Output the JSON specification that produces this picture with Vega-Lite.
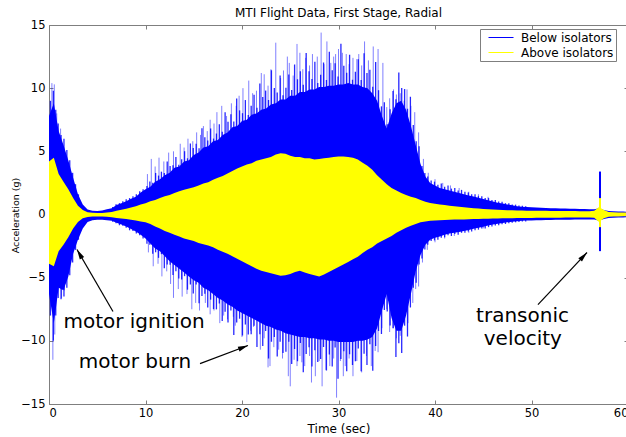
{
  "$schema": "https://vega.github.io/schema/vega-lite/v6.json",
  "width": 579,
  "height": 379,
  "autosize": {"type": "none"},
  "padding": {"left": 49, "top": 25, "right": 0, "bottom": 33},
  "background": "white",
  "title": {"text": "MTI Flight Data, First Stage, Radial", "font": "DejaVu Sans", "fontSize": 12, "fontWeight": "normal", "color": "#000", "offset": -1, "anchor": "middle"},
  "config": {
    "view": {"stroke": "#7f7f7f", "strokeWidth": 1},
    "axis": {"domain": false, "grid": false, "tickColor": "#7f7f7f", "tickSize": -4, "labelFont": "DejaVu Sans", "labelFontSize": 11.5, "labelColor": "#000", "titleFont": "DejaVu Sans", "titleFontWeight": "normal", "titleColor": "#000"}
  },
  "datasets": {
    "sig": [
      {"t":0,"bh":7.8,"bl":-6.3,"yh":4.2,"yl":-3.9},
      {"t":0.5,"bh":8.8,"bl":-8.6,"yh":4.5,"yl":-4.1},
      {"t":1,"bh":6.6,"bl":-5.8,"yh":3.2,"yl":-2.9},
      {"t":1.5,"bh":5.5,"bl":-6.0,"yh":2.6,"yl":-2.4},
      {"t":2,"bh":4.3,"bl":-4.9,"yh":2.0,"yl":-1.8},
      {"t":2.5,"bh":2.9,"bl":-3.1,"yh":1.3,"yl":-1.1},
      {"t":3,"bh":1.6,"bl":-2.0,"yh":0.7,"yl":-0.6},
      {"t":3.5,"bh":0.8,"bl":-1.1,"yh":0.35,"yl":-0.3},
      {"t":4,"bh":0.4,"bl":-0.6,"yh":0.18,"yl":-0.2},
      {"t":4.5,"bh":0.3,"bl":-0.45,"yh":0.13,"yl":-0.16},
      {"t":5,"bh":0.28,"bl":-0.42,"yh":0.12,"yl":-0.15},
      {"t":5.5,"bh":0.32,"bl":-0.42,"yh":0.12,"yl":-0.15},
      {"t":6,"bh":0.42,"bl":-0.45,"yh":0.15,"yl":-0.18},
      {"t":6.5,"bh":0.5,"bl":-0.5,"yh":0.2,"yl":-0.22},
      {"t":7,"bh":0.75,"bl":-0.65,"yh":0.3,"yl":-0.28},
      {"t":7.5,"bh":0.9,"bl":-0.8,"yh":0.38,"yl":-0.32},
      {"t":8,"bh":1.05,"bl":-0.95,"yh":0.45,"yl":-0.36},
      {"t":8.5,"bh":1.25,"bl":-1.15,"yh":0.55,"yl":-0.42},
      {"t":9,"bh":1.4,"bl":-1.35,"yh":0.65,"yl":-0.48},
      {"t":9.5,"bh":1.75,"bl":-1.6,"yh":0.8,"yl":-0.55},
      {"t":10,"bh":2.0,"bl":-1.9,"yh":0.9,"yl":-0.62},
      {"t":10.5,"bh":2.2,"bl":-2.3,"yh":1.05,"yl":-0.75},
      {"t":11,"bh":2.6,"bl":-2.7,"yh":1.15,"yl":-0.95},
      {"t":11.5,"bh":2.8,"bl":-2.9,"yh":1.3,"yl":-1.1},
      {"t":12,"bh":3.1,"bl":-3.3,"yh":1.45,"yl":-1.3},
      {"t":12.5,"bh":3.3,"bl":-3.7,"yh":1.55,"yl":-1.45},
      {"t":13,"bh":3.7,"bl":-4.0,"yh":1.7,"yl":-1.6},
      {"t":13.5,"bh":3.8,"bl":-4.3,"yh":1.85,"yl":-1.75},
      {"t":14,"bh":4.2,"bl":-4.6,"yh":1.95,"yl":-1.9},
      {"t":14.5,"bh":4.3,"bl":-4.9,"yh":2.05,"yl":-2.0},
      {"t":15,"bh":4.7,"bl":-5.2,"yh":2.15,"yl":-2.1},
      {"t":15.5,"bh":4.9,"bl":-5.4,"yh":2.3,"yl":-2.25},
      {"t":16,"bh":5.3,"bl":-5.8,"yh":2.45,"yl":-2.35},
      {"t":16.5,"bh":5.4,"bl":-6.0,"yh":2.55,"yl":-2.45},
      {"t":17,"bh":5.8,"bl":-6.3,"yh":2.75,"yl":-2.6},
      {"t":17.5,"bh":5.9,"bl":-6.6,"yh":2.9,"yl":-2.8},
      {"t":18,"bh":6.3,"bl":-6.8,"yh":3.05,"yl":-2.95},
      {"t":18.5,"bh":6.5,"bl":-7.1,"yh":3.25,"yl":-3.1},
      {"t":19,"bh":6.9,"bl":-7.3,"yh":3.45,"yl":-3.3},
      {"t":19.5,"bh":7.0,"bl":-7.6,"yh":3.65,"yl":-3.5},
      {"t":20,"bh":7.4,"bl":-7.8,"yh":3.8,"yl":-3.7},
      {"t":20.5,"bh":7.5,"bl":-8.0,"yh":3.95,"yl":-3.9},
      {"t":21,"bh":7.9,"bl":-8.2,"yh":4.05,"yl":-4.1},
      {"t":21.5,"bh":8.0,"bl":-8.4,"yh":4.25,"yl":-4.3},
      {"t":22,"bh":8.3,"bl":-8.6,"yh":4.35,"yl":-4.45},
      {"t":22.5,"bh":8.4,"bl":-8.8,"yh":4.45,"yl":-4.55},
      {"t":23,"bh":8.7,"bl":-8.9,"yh":4.55,"yl":-4.65},
      {"t":23.5,"bh":8.8,"bl":-9.1,"yh":4.75,"yl":-4.75},
      {"t":24,"bh":9.1,"bl":-9.2,"yh":4.85,"yl":-4.85},
      {"t":24.5,"bh":9.1,"bl":-9.4,"yh":4.8,"yl":-4.8},
      {"t":25,"bh":9.4,"bl":-9.5,"yh":4.65,"yl":-4.7},
      {"t":25.5,"bh":9.4,"bl":-9.6,"yh":4.55,"yl":-4.55},
      {"t":26,"bh":9.7,"bl":-9.7,"yh":4.55,"yl":-4.45},
      {"t":26.5,"bh":9.7,"bl":-9.7,"yh":4.45,"yl":-4.6},
      {"t":27,"bh":9.9,"bl":-9.8,"yh":4.45,"yl":-4.7},
      {"t":27.5,"bh":9.9,"bl":-9.8,"yh":4.35,"yl":-4.8},
      {"t":28,"bh":10.1,"bl":-9.9,"yh":4.4,"yl":-4.9},
      {"t":28.5,"bh":10.1,"bl":-9.9,"yh":4.45,"yl":-4.75},
      {"t":29,"bh":10.2,"bl":-10.0,"yh":4.5,"yl":-4.55},
      {"t":29.5,"bh":10.2,"bl":-10.0,"yh":4.55,"yl":-4.35},
      {"t":30,"bh":10.3,"bl":-10.1,"yh":4.6,"yl":-4.15},
      {"t":30.5,"bh":10.3,"bl":-10.1,"yh":4.6,"yl":-3.95},
      {"t":31,"bh":10.4,"bl":-10.1,"yh":4.55,"yl":-3.75},
      {"t":31.5,"bh":10.3,"bl":-10.1,"yh":4.5,"yl":-3.55},
      {"t":32,"bh":10.3,"bl":-10.0,"yh":4.35,"yl":-3.35},
      {"t":32.5,"bh":10.1,"bl":-10.0,"yh":4.1,"yl":-3.05},
      {"t":33,"bh":10.0,"bl":-9.9,"yh":3.85,"yl":-2.8},
      {"t":33.5,"bh":9.6,"bl":-9.7,"yh":3.55,"yl":-2.6},
      {"t":34,"bh":9.0,"bl":-9.0,"yh":3.1,"yl":-2.3},
      {"t":34.5,"bh":7.8,"bl":-7.6,"yh":2.75,"yl":-2.1},
      {"t":35,"bh":6.8,"bl":-6.3,"yh":2.4,"yl":-1.9},
      {"t":35.5,"bh":8.0,"bl":-8.2,"yh":2.1,"yl":-1.7},
      {"t":36,"bh":8.8,"bl":-9.2,"yh":1.9,"yl":-1.45},
      {"t":36.5,"bh":9.0,"bl":-9.2,"yh":1.7,"yl":-1.25},
      {"t":37,"bh":8.3,"bl":-8.0,"yh":1.55,"yl":-1.05},
      {"t":37.5,"bh":7.0,"bl":-6.3,"yh":1.4,"yl":-0.9},
      {"t":38,"bh":5.5,"bl":-4.5,"yh":1.3,"yl":-0.75},
      {"t":38.5,"bh":4.0,"bl":-3.2,"yh":1.15,"yl":-0.62},
      {"t":39,"bh":3.0,"bl":-2.4,"yh":1.0,"yl":-0.55},
      {"t":39.5,"bh":2.5,"bl":-2.0,"yh":0.92,"yl":-0.5},
      {"t":40,"bh":2.3,"bl":-1.85,"yh":0.86,"yl":-0.47},
      {"t":40.5,"bh":2.1,"bl":-1.75,"yh":0.8,"yl":-0.45},
      {"t":41,"bh":2.0,"bl":-1.6,"yh":0.75,"yl":-0.44},
      {"t":41.5,"bh":1.9,"bl":-1.5,"yh":0.7,"yl":-0.42},
      {"t":42,"bh":1.8,"bl":-1.45,"yh":0.66,"yl":-0.4},
      {"t":42.5,"bh":1.7,"bl":-1.38,"yh":0.62,"yl":-0.4},
      {"t":43,"bh":1.6,"bl":-1.3,"yh":0.57,"yl":-0.39},
      {"t":43.5,"bh":1.5,"bl":-1.22,"yh":0.53,"yl":-0.38},
      {"t":44,"bh":1.42,"bl":-1.12,"yh":0.5,"yl":-0.36},
      {"t":44.5,"bh":1.32,"bl":-1.04,"yh":0.47,"yl":-0.35},
      {"t":45,"bh":1.22,"bl":-0.96,"yh":0.44,"yl":-0.34},
      {"t":45.5,"bh":1.12,"bl":-0.88,"yh":0.41,"yl":-0.33},
      {"t":46,"bh":1.03,"bl":-0.8,"yh":0.39,"yl":-0.32},
      {"t":46.5,"bh":0.94,"bl":-0.73,"yh":0.37,"yl":-0.31},
      {"t":47,"bh":0.87,"bl":-0.67,"yh":0.35,"yl":-0.3},
      {"t":47.5,"bh":0.8,"bl":-0.62,"yh":0.34,"yl":-0.3},
      {"t":48,"bh":0.73,"bl":-0.57,"yh":0.33,"yl":-0.29},
      {"t":48.5,"bh":0.66,"bl":-0.53,"yh":0.32,"yl":-0.28},
      {"t":49,"bh":0.62,"bl":-0.5,"yh":0.31,"yl":-0.28},
      {"t":49.5,"bh":0.6,"bl":-0.48,"yh":0.3,"yl":-0.27},
      {"t":50,"bh":0.58,"bl":-0.47,"yh":0.3,"yl":-0.27},
      {"t":50.5,"bh":0.56,"bl":-0.46,"yh":0.3,"yl":-0.26},
      {"t":51,"bh":0.54,"bl":-0.45,"yh":0.29,"yl":-0.26},
      {"t":51.5,"bh":0.52,"bl":-0.44,"yh":0.29,"yl":-0.26},
      {"t":52,"bh":0.5,"bl":-0.43,"yh":0.28,"yl":-0.25},
      {"t":52.5,"bh":0.49,"bl":-0.42,"yh":0.28,"yl":-0.25},
      {"t":53,"bh":0.48,"bl":-0.42,"yh":0.28,"yl":-0.25},
      {"t":53.5,"bh":0.47,"bl":-0.41,"yh":0.27,"yl":-0.24},
      {"t":54,"bh":0.46,"bl":-0.41,"yh":0.27,"yl":-0.24},
      {"t":54.5,"bh":0.45,"bl":-0.4,"yh":0.27,"yl":-0.24},
      {"t":55,"bh":0.44,"bl":-0.4,"yh":0.26,"yl":-0.24},
      {"t":55.5,"bh":0.43,"bl":-0.4,"yh":0.26,"yl":-0.23},
      {"t":56,"bh":0.42,"bl":-0.39,"yh":0.26,"yl":-0.23},
      {"t":56.5,"bh":0.42,"bl":-0.39,"yh":0.3,"yl":-0.26},
      {"t":57,"bh":0.5,"bl":-0.5,"yh":0.6,"yl":-0.6},
      {"t":57.5,"bh":0.35,"bl":-0.35,"yh":0.35,"yl":-0.3},
      {"t":58,"bh":0.28,"bl":-0.28,"yh":0.2,"yl":-0.18},
      {"t":58.5,"bh":0.25,"bl":-0.25,"yh":0.18,"yl":-0.16},
      {"t":59,"bh":0.24,"bl":-0.24,"yh":0.16,"yl":-0.15},
      {"t":59.5,"bh":0.23,"bl":-0.23,"yh":0.15,"yl":-0.14},
      {"t":60,"bh":0.22,"bl":-0.22,"yh":0.15,"yl":-0.14}
    ],
    "hair": [
      {"t":0.15,"hi":9.0,"lo":-8.0},{"t":0.45,"hi":9.8,"lo":-10.0},{"t":0.7,"hi":8.3,"lo":-8.0},{"t":0.95,"hi":7.2,"lo":-6.6},{"t":1.25,"hi":6.3,"lo":-6.7},{"t":1.55,"hi":6.0,"lo":-6.5},{"t":1.85,"hi":5.1,"lo":-5.8},{"t":2.15,"hi":4.3,"lo":-4.8},{"t":2.45,"hi":3.3,"lo":-3.8},{"t":2.75,"hi":2.4,"lo":-2.8},{"t":3.05,"hi":1.6,"lo":-2.0},
      {"t":6.6,"hi":0.6,"lo":-0.58},{"t":6.95,"hi":0.82,"lo":-0.7},{"t":7.3,"hi":0.9,"lo":-0.85},{"t":7.65,"hi":1.05,"lo":-0.9},{"t":8.0,"hi":1.2,"lo":-1.05},{"t":8.35,"hi":1.3,"lo":-1.25},{"t":8.7,"hi":1.45,"lo":-1.3},{"t":9.05,"hi":1.6,"lo":-1.5},{"t":9.4,"hi":1.85,"lo":-1.65},{"t":9.75,"hi":2.0,"lo":-1.9},
      {"t":10.15,"hi":2.25,"lo":-2.31},{"t":10.45,"hi":2.62,"lo":-2.39},{"t":10.75,"hi":2.52,"lo":-3.1},{"t":11.05,"hi":3.29,"lo":-2.99},{"t":11.35,"hi":3.08,"lo":-3.43},{"t":11.65,"hi":3.39,"lo":-3.14},{"t":11.95,"hi":3.29,"lo":-4.25},{"t":12.25,"hi":4.2,"lo":-3.96},{"t":12.55,"hi":3.83,"lo":-3.97},{"t":12.85,"hi":3.9,"lo":-4.79},{"t":13.15,"hi":4.56,"lo":-4.49},{"t":13.45,"hi":3.94,"lo":-5.07},
      {"t":13.75,"hi":4.38,"lo":-5.14},{"t":14.05,"hi":5.01,"lo":-4.88},{"t":14.35,"hi":4.45,"lo":-5.95},{"t":14.65,"hi":5.62,"lo":-5.54},{"t":14.95,"hi":5.26,"lo":-6.26},{"t":15.25,"hi":5.61,"lo":-5.55},{"t":15.55,"hi":5.25,"lo":-7.02},{"t":15.85,"hi":6.82,"lo":-6.45},{"t":16.15,"hi":6.12,"lo":-6.27},{"t":16.45,"hi":5.85,"lo":-7.37},{"t":16.75,"hi":6.81,"lo":-6.74},{"t":17.05,"hi":6.01,"lo":-7.49},
      {"t":17.35,"hi":6.41,"lo":-7.51},{"t":17.65,"hi":7.15,"lo":-7.05},{"t":17.95,"hi":6.55,"lo":-8.43},{"t":18.25,"hi":8.09,"lo":-7.7},{"t":18.55,"hi":7.34,"lo":-8.55},{"t":18.85,"hi":7.94,"lo":-7.6},{"t":19.15,"hi":7.37,"lo":-9.53},{"t":19.45,"hi":9.18,"lo":-8.55},{"t":19.75,"hi":8.24,"lo":-8.25},{"t":20.05,"hi":8.02,"lo":-9.58},{"t":20.35,"hi":9.06,"lo":-8.71},{"t":20.65,"hi":7.87,"lo":-9.5},
      {"t":20.95,"hi":8.6,"lo":-9.48},{"t":21.25,"hi":9.48,"lo":-8.8},{"t":21.55,"hi":8.44,"lo":-10.48},{"t":21.85,"hi":10.36,"lo":-9.47},{"t":22.15,"hi":9.3,"lo":-10.41},{"t":22.45,"hi":9.81,"lo":-9.22},{"t":22.75,"hi":9.06,"lo":-11.4},{"t":23.05,"hi":11.41,"lo":-10.07},{"t":23.35,"hi":10.01,"lo":-9.7},{"t":23.65,"hi":9.65,"lo":-11.24},{"t":23.95,"hi":11.0,"lo":-10.08},{"t":24.25,"hi":9.43,"lo":-10.97},
      {"t":24.55,"hi":10.03,"lo":-10.87},{"t":24.85,"hi":11.09,"lo":-10.07},{"t":25.15,"hi":9.85,"lo":-11.84},{"t":25.45,"hi":11.88,"lo":-10.64},{"t":25.75,"hi":10.7,"lo":-11.62},{"t":26.05,"hi":11.33,"lo":-10.17},{"t":26.35,"hi":10.28,"lo":-12.49},{"t":26.65,"hi":12.79,"lo":-11.04},{"t":26.95,"hi":11.33,"lo":-10.51},{"t":27.25,"hi":10.73,"lo":-12.03},{"t":27.55,"hi":12.1,"lo":-10.74},{"t":27.85,"hi":10.41,"lo":-11.68},
      {"t":28.15,"hi":11.07,"lo":-11.44},{"t":28.45,"hi":12.04,"lo":-10.49},{"t":28.75,"hi":10.64,"lo":-12.34},{"t":29.05,"hi":12.89,"lo":-11.08},{"t":29.35,"hi":11.42,"lo":-12.04},{"t":29.65,"hi":11.97,"lo":-10.53},{"t":29.95,"hi":10.92,"lo":-13.01},{"t":30.25,"hi":13.51,"lo":-11.43},{"t":30.55,"hi":11.78,"lo":-10.83},{"t":30.85,"hi":11.22,"lo":-12.4},{"t":31.15,"hi":12.65,"lo":-11.07},{"t":31.45,"hi":10.67,"lo":-11.92},
      {"t":31.75,"hi":11.29,"lo":-11.62},{"t":32.05,"hi":12.28,"lo":-10.6},{"t":32.35,"hi":10.64,"lo":-12.4},{"t":32.65,"hi":12.77,"lo":-11.02},{"t":32.95,"hi":11.2,"lo":-11.92},{"t":33.25,"hi":11.45,"lo":-10.27},{"t":33.55,"hi":10.12,"lo":-12.36},{"t":33.85,"hi":12.07,"lo":-10.41},{"t":34.15,"hi":9.84,"lo":-9.22},{"t":34.45,"hi":8.56,"lo":-9.46},{"t":34.75,"hi":8.88,"lo":-7.56},{"t":35.05,"hi":7.15,"lo":-7.67},
      {"t":35.35,"hi":8.33,"lo":-8.79},{"t":35.65,"hi":9.77,"lo":-9.01},{"t":35.95,"hi":9.12,"lo":-11.28},{"t":36.25,"hi":11.25,"lo":-10.19},{"t":36.55,"hi":10.02,"lo":-10.96},{"t":36.85,"hi":9.93,"lo":-8.8},{"t":37.15,"hi":8.37,"lo":-9.66},{"t":37.45,"hi":9.32,"lo":-7.36},{"t":37.75,"hi":7.09,"lo":-5.79},{"t":38.05,"hi":5.8,"lo":-5.4},{"t":38.35,"hi":5.41,"lo":-3.95},{"t":38.65,"hi":3.83,"lo":-3.48},{"t":38.95,"hi":3.29,"lo":-2.77},
      {"t":39.25,"hi":3.0,"lo":-2.4},{"t":39.6,"hi":2.7,"lo":-2.1},{"t":39.95,"hi":2.6,"lo":-2.05},{"t":40.3,"hi":2.35,"lo":-2.0},{"t":40.65,"hi":2.45,"lo":-1.85},{"t":41.0,"hi":2.2,"lo":-1.8},{"t":41.35,"hi":2.3,"lo":-1.65},{"t":41.7,"hi":2.05,"lo":-1.7},{"t":42.05,"hi":2.1,"lo":-1.55},{"t":42.4,"hi":1.9,"lo":-1.6},{"t":42.75,"hi":1.95,"lo":-1.45},{"t":43.1,"hi":1.8,"lo":-1.45},{"t":43.45,"hi":1.75,"lo":-1.35},{"t":43.8,"hi":1.6,"lo":-1.35},{"t":44.15,"hi":1.6,"lo":-1.25},{"t":44.5,"hi":1.45,"lo":-1.2},{"t":44.85,"hi":1.45,"lo":-1.1},{"t":45.2,"hi":1.3,"lo":-1.1},{"t":45.55,"hi":1.3,"lo":-1.0},{"t":45.9,"hi":1.15,"lo":-0.95},{"t":46.25,"hi":1.15,"lo":-0.88},{"t":46.6,"hi":1.02,"lo":-0.85},{"t":46.95,"hi":1.0,"lo":-0.78},{"t":47.3,"hi":0.9,"lo":-0.75},{"t":47.65,"hi":0.9,"lo":-0.7},{"t":48.0,"hi":0.8,"lo":-0.66},{"t":48.35,"hi":0.78,"lo":-0.62},{"t":48.7,"hi":0.72,"lo":-0.6},{"t":49.05,"hi":0.7,"lo":-0.56},{"t":49.4,"hi":0.66,"lo":-0.55}
    ],
    "spk": [
      {"t":0.3,"v":10.4},{"t":0.55,"v":10.3},{"t":0.8,"v":8.0},{"t":1.2,"v":6.8},
      {"t":10.2,"v":3.2},{"t":10.6,"v":4.4},{"t":11.0,"v":3.8},{"t":11.4,"v":4.5},{"t":11.9,"v":4.2},{"t":12.4,"v":4.9},{"t":12.9,"v":5.0},{"t":13.6,"v":5.6},{"t":14.0,"v":5.3},{"t":14.4,"v":6.0},{"t":14.9,"v":5.8},{"t":15.3,"v":6.5},{"t":15.7,"v":6.3},{"t":16.0,"v":7.0},{"t":16.4,"v":6.6},{"t":16.7,"v":7.5},{"t":17.1,"v":7.2},{"t":17.4,"v":8.1},{"t":17.9,"v":8.6},{"t":18.4,"v":7.8},{"t":18.9,"v":8.8},{"t":19.4,"v":8.6},{"t":19.7,"v":9.4},{"t":20.1,"v":10.0},{"t":20.7,"v":10.6},{"t":21.1,"v":9.6},{"t":21.5,"v":9.8},{"t":22.0,"v":11.2},{"t":22.3,"v":11.1},{"t":22.7,"v":10.2},{"t":23.0,"v":11.5},{"t":23.5,"v":13.6},{"t":24.0,"v":10.8},{"t":24.3,"v":11.4},{"t":24.7,"v":12.5},{"t":24.9,"v":12.0},{"t":25.3,"v":11.0},{"t":25.7,"v":13.5},{"t":26.0,"v":12.8},{"t":26.3,"v":11.5},{"t":26.6,"v":12.4},{"t":27.0,"v":11.8},{"t":27.3,"v":12.7},{"t":27.8,"v":12.5},{"t":28.2,"v":14.4},{"t":28.5,"v":11.9},{"t":28.8,"v":13.7},{"t":29.2,"v":12.0},{"t":29.5,"v":12.5},{"t":29.7,"v":12.7},{"t":30.0,"v":13.1},{"t":30.4,"v":12.8},{"t":30.8,"v":12.7},{"t":31.1,"v":11.9},{"t":31.5,"v":12.4},{"t":31.9,"v":12.3},{"t":32.1,"v":12.7},{"t":32.4,"v":11.8},{"t":32.7,"v":13.7},{"t":33.1,"v":12.2},{"t":33.6,"v":13.3},{"t":34.1,"v":13.1},{"t":34.6,"v":12.0},{"t":35.0,"v":8.5},{"t":35.3,"v":9.2},{"t":35.7,"v":9.9},{"t":36.0,"v":9.5},{"t":36.4,"v":9.6},{"t":36.8,"v":9.0},{"t":37.1,"v":9.9},{"t":37.5,"v":8.6},{"t":37.9,"v":8.1},{"t":38.3,"v":6.5},{"t":38.8,"v":4.4},{"t":39.3,"v":3.3},{"t":40.0,"v":2.8},{"t":40.8,"v":2.5},{"t":41.6,"v":2.3},{"t":42.5,"v":2.1},{"t":43.5,"v":1.8},{"t":44.5,"v":1.6},{"t":45.5,"v":1.4},
      {"t":0.4,"v":-11.5},{"t":0.6,"v":-9.5},{"t":1.3,"v":-6.6},{"t":1.6,"v":-6.0},
      {"t":10.3,"v":-3.0},{"t":10.8,"v":-4.1},{"t":11.3,"v":-3.9},{"t":11.7,"v":-4.9},{"t":12.2,"v":-4.5},{"t":12.6,"v":-5.5},{"t":12.9,"v":-6.6},{"t":13.4,"v":-5.9},{"t":13.8,"v":-6.5},{"t":14.3,"v":-6.3},{"t":14.8,"v":-7.5},{"t":15.2,"v":-7.0},{"t":15.6,"v":-7.6},{"t":16.2,"v":-7.0},{"t":16.7,"v":-7.9},{"t":17.1,"v":-7.6},{"t":17.7,"v":-8.6},{"t":18.1,"v":-8.0},{"t":18.5,"v":-8.3},{"t":19.1,"v":-8.1},{"t":19.3,"v":-8.8},{"t":20.0,"v":-9.7},{"t":20.5,"v":-10.1},{"t":20.9,"v":-9.2},{"t":21.2,"v":-8.9},{"t":21.9,"v":-10.7},{"t":22.3,"v":-9.8},{"t":22.7,"v":-12.1},{"t":22.9,"v":-12.0},{"t":23.3,"v":-10.5},{"t":23.8,"v":-10.7},{"t":24.2,"v":-11.4},{"t":24.8,"v":-12.8},{"t":25.0,"v":-13.6},{"t":25.4,"v":-11.5},{"t":25.7,"v":-12.0},{"t":26.0,"v":-11.2},{"t":26.2,"v":-11.7},{"t":26.5,"v":-12.0},{"t":27.0,"v":-11.2},{"t":27.2,"v":-13.3},{"t":27.6,"v":-12.8},{"t":28.0,"v":-11.6},{"t":28.3,"v":-13.6},{"t":28.7,"v":-12.3},{"t":29.1,"v":-12.0},{"t":29.5,"v":-11.4},{"t":29.8,"v":-14.5},{"t":30.2,"v":-11.6},{"t":30.5,"v":-12.8},{"t":30.7,"v":-12.0},{"t":31.1,"v":-11.4},{"t":31.5,"v":-12.8},{"t":31.9,"v":-11.6},{"t":32.4,"v":-12.5},{"t":32.9,"v":-11.2},{"t":33.4,"v":-12.0},{"t":33.8,"v":-10.8},{"t":34.1,"v":-10.9},{"t":34.5,"v":-9.0},{"t":35.0,"v":-7.5},{"t":35.3,"v":-9.3},{"t":35.7,"v":-9.0},{"t":36.0,"v":-9.8},{"t":36.4,"v":-9.6},{"t":36.7,"v":-8.3},{"t":37.2,"v":-8.6},{"t":37.7,"v":-7.0},{"t":38.0,"v":-5.9},{"t":38.3,"v":-5.7},{"t":38.7,"v":-3.8},{"t":39.2,"v":-2.8},{"t":40.0,"v":-2.2},{"t":41.0,"v":-1.9},{"t":42.0,"v":-1.7},{"t":43.5,"v":-1.45},{"t":45.0,"v":-1.1}
    ],
    "tr": [{"t":57.1,"hi":3.4,"lo":-2.9,"yhi":1.3,"ylo":-1.0}],
    "ann": [
      {"label":"motor ignition","t":8.81,"v":-8.99},
      {"label":"motor burn","t":8.91,"v":-12.15},
      {"label":"transonic","t":49.07,"v":-8.49},
      {"label":"velocity","t":49.1,"v":-10.33}
    ],
    "arr": [
      {"id":"ign","t":6.63,"v":-7.68,"t2":2.9,"v2":-2.77},
      {"id":"burn","t":15.65,"v":-11.8,"t2":20.62,"v2":-10.37},
      {"id":"trans","t":50.67,"v":-7.13,"t2":55.75,"v2":-3.01}
    ]
  },
  "layer": [
    {
      "data": {"name": "spk"},
      "mark": {"type": "rule", "color": "#0000ff", "strokeWidth": 1, "opacity": 0.5},
      "encoding": {
        "x": {"field": "t", "type": "quantitative", "scale": {"domain": [0, 60], "nice": false, "zero": false},
              "axis": {"orient": "bottom", "values": [0,10,20,30,40,50,60], "labelPadding": 7, "title": "Time (sec)", "titleFontSize": 12, "titleBaseline": "middle", "titleY": 24}},
        "y": {"field": "v", "type": "quantitative", "scale": {"domain": [-15, 15], "nice": false},
              "axis": {"orient": "left", "values": [-15,-10,-5,0,5,10,15], "labelPadding": 8, "title": "Acceleration (g)", "titleFontSize": 9.5, "titleAngle": -90, "titleBaseline": "middle", "titleAlign": "center", "titleX": -34, "titleY": 190}},
        "y2": {"datum": 0}
      }
    },
    {
      "data": {"name": "hair"},
      "mark": {"type": "rule", "color": "#0000ff", "strokeWidth": 1.3, "opacity": 0.85},
      "encoding": {
        "x": {"field": "t", "type": "quantitative", "axis": {"orient": "top", "values": [0,10,20,30,40,50,60], "labels": false, "title": null}},
        "y": {"field": "hi", "type": "quantitative", "axis": {"orient": "right", "values": [-15,-10,-5,0,5,10,15], "labels": false, "title": null}},
        "y2": {"field": "lo"}
      }
    },
    {
      "data": {"name": "sig"},
      "mark": {"type": "area", "color": "#0000ff", "opacity": 1, "interpolate": "linear"},
      "encoding": {
        "x": {"field": "t", "type": "quantitative", "axis": null},
        "y": {"field": "bh", "type": "quantitative", "axis": null},
        "y2": {"field": "bl"}
      }
    },
    {
      "data": {"name": "tr"},
      "mark": {"type": "rule", "strokeWidth": 2},
      "encoding": {
        "x": {"field": "t", "type": "quantitative", "axis": null},
        "y": {"field": "hi", "type": "quantitative", "axis": null},
        "y2": {"field": "lo"},
        "color": {"datum": "Below isolators", "type": "nominal",
                  "scale": {"domain": ["Below isolators", "Above isolators"], "range": ["#0000ff", "#ffff00"]},
                  "legend": {"title": null, "orient": "none", "legendX": 431, "legendY": 4, "symbolType": "M0,0L4.17,0", "symbolSize": 144, "symbolStrokeWidth": 1, "labelFont": "DejaVu Sans", "labelFontSize": 12, "labelColor": "#000", "labelExpr": "datum.label + '   '", "padding": 2, "labelOffset": 26, "rowPadding": 2, "strokeColor": "#7f7f7f", "fillColor": "#ffffff", "cornerRadius": 0}}
      }
    },
    {
      "data": {"name": "sig"},
      "mark": {"type": "area", "color": "#ffff00", "opacity": 1, "interpolate": "linear"},
      "encoding": {
        "x": {"field": "t", "type": "quantitative", "axis": null},
        "y": {"field": "yh", "type": "quantitative", "axis": null},
        "y2": {"field": "yl"}
      }
    },
    {
      "data": {"name": "tr"},
      "mark": {"type": "rule", "strokeWidth": 2},
      "encoding": {
        "x": {"field": "t", "type": "quantitative", "axis": null},
        "y": {"field": "yhi", "type": "quantitative", "axis": null},
        "y2": {"field": "ylo"},
        "color": {"datum": "Above isolators", "type": "nominal"}
      }
    },
    {
      "data": {"name": "ann"},
      "mark": {"type": "text", "font": "DejaVu Sans", "fontSize": 20, "align": "center", "baseline": "alphabetic", "color": "#000"},
      "encoding": {
        "x": {"field": "t", "type": "quantitative", "axis": null},
        "y": {"field": "v", "type": "quantitative", "axis": null},
        "text": {"field": "label"}
      }
    },
    {
      "data": {"name": "arr"},
      "mark": {"type": "rule", "color": "#000", "strokeWidth": 1.2},
      "encoding": {
        "x": {"field": "t", "type": "quantitative", "axis": null},
        "y": {"field": "v", "type": "quantitative", "axis": null},
        "x2": {"field": "t2"},
        "y2": {"field": "v2"}
      }
    },
    {
      "data": {"name": "arr"},
      "transform": [{"filter": "datum.id === 'ign'"}],
      "mark": {"type": "point", "shape": "M0,0L-0.5,2L0.5,2Z", "size": 100, "angle": -30, "filled": true, "color": "#000", "opacity": 1, "strokeWidth": 0},
      "encoding": {
        "x": {"field": "t2", "type": "quantitative", "axis": null},
        "y": {"field": "v2", "type": "quantitative", "axis": null}
      }
    },
    {
      "data": {"name": "arr"},
      "transform": [{"filter": "datum.id === 'burn'"}],
      "mark": {"type": "point", "shape": "M0,0L-0.5,2L0.5,2Z", "size": 100, "angle": 69, "filled": true, "color": "#000", "opacity": 1, "strokeWidth": 0},
      "encoding": {
        "x": {"field": "t2", "type": "quantitative", "axis": null},
        "y": {"field": "v2", "type": "quantitative", "axis": null}
      }
    },
    {
      "data": {"name": "arr"},
      "transform": [{"filter": "datum.id === 'trans'"}],
      "mark": {"type": "point", "shape": "M0,0L-0.5,2L0.5,2Z", "size": 100, "angle": 43, "filled": true, "color": "#000", "opacity": 1, "strokeWidth": 0},
      "encoding": {
        "x": {"field": "t2", "type": "quantitative", "axis": null},
        "y": {"field": "v2", "type": "quantitative", "axis": null}
      }
    }
  ]
}
